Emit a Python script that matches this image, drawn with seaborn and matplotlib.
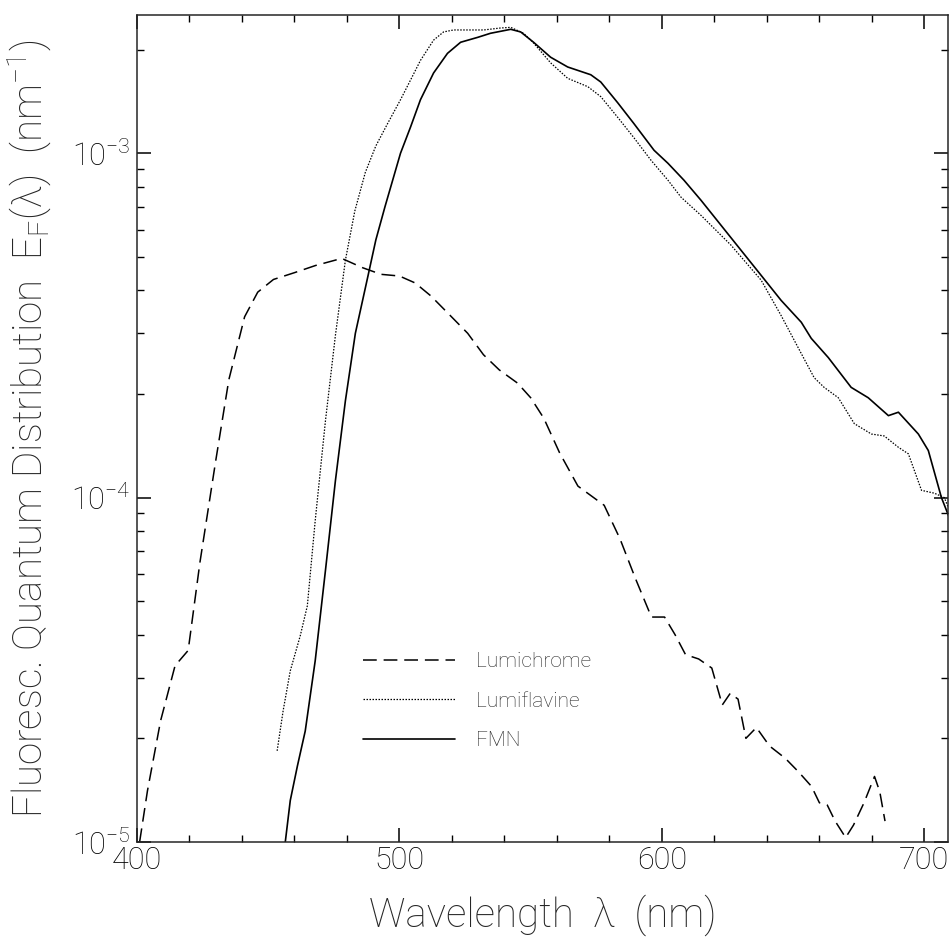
import numpy as np
import pandas as pd
import matplotlib
matplotlib.use('Agg')
import matplotlib.pyplot as plt
import matplotlib.ticker as mticker
import seaborn as sns

# ── Data ──────────────────────────────────────────────────────────────────────

lumichrome_nm = [401, 404, 409, 414.5, 419.5, 424, 430, 435, 441, 446, 452, 460,
                 468, 478, 486, 493, 500, 506, 512, 519, 526, 532, 538, 545, 550,
                 555, 561, 568, 574, 578, 584, 590, 596, 601, 605, 609, 614, 619,
                 623, 626, 629, 632, 636, 641, 647, 652, 657, 660, 663, 666, 670,
                 673, 677, 681, 683, 685]
lumichrome_val = [1.0e-5, 1.41e-5, 2.25e-5, 3.25e-5, 3.6e-5, 6.5e-5, 1.28e-4,
                  2.2e-4, 3.35e-4, 3.95e-4, 4.3e-4, 4.5e-4, 4.72e-4, 4.95e-4,
                  4.65e-4, 4.45e-4, 4.4e-4, 4.2e-4, 3.85e-4, 3.4e-4, 3.0e-4,
                  2.6e-4, 2.35e-4, 2.15e-4, 1.95e-4, 1.7e-4, 1.35e-4, 1.08e-4,
                  1.0e-4, 9.5e-5, 7.6e-5, 5.8e-5, 4.5e-5, 4.5e-5, 4.0e-5, 3.5e-5,
                  3.4e-5, 3.2e-5, 2.5e-5, 2.7e-5, 2.6e-5, 2.0e-5, 2.15e-5, 1.9e-5,
                  1.75e-5, 1.6e-5, 1.45e-5, 1.3e-5, 1.28e-5, 1.15e-5, 1.03e-5,
                  1.12e-5, 1.3e-5, 1.55e-5, 1.4e-5, 1.15e-5]

lumiflavine_nm = [453.4, 455.7, 458.4, 462.2, 464.9, 467.9, 471.8, 475.6, 479.4,
                  483, 487, 491, 495.5, 500.4, 504.2, 508, 513, 516.8, 520.6, 526,
                  532.1, 538.5, 542.4, 547.3, 551.1, 557.6, 564.1, 571.8, 576.7,
                  583.2, 589.3, 595.8, 602.3, 607.3, 614.9, 626.3, 637.8, 645.4,
                  653.1, 658, 661.8, 667.2, 673.3, 679.8, 684.7, 690.1, 693.9,
                  698.9, 703.8, 707.6, 710]
lumiflavine_val = [1.84e-5, 2.41e-5, 3.14e-5, 3.97e-5, 4.85e-5, 8.57e-5, 1.67e-4,
                   2.96e-4, 4.89e-4, 6.8e-4, 8.8e-4, 1.05e-3, 1.22e-3, 1.43e-3,
                   1.63e-3, 1.86e-3, 2.13e-3, 2.25e-3, 2.28e-3, 2.28e-3, 2.28e-3,
                   2.31e-3, 2.32e-3, 2.23e-3, 2.09e-3, 1.83e-3, 1.65e-3, 1.56e-3,
                   1.46e-3, 1.27e-3, 1.11e-3, 9.55e-4, 8.35e-4, 7.45e-4, 6.6e-4,
                   5.41e-4, 4.28e-4, 3.38e-4, 2.62e-4, 2.23e-4, 2.09e-4, 1.95e-4,
                   1.64e-4, 1.53e-4, 1.51e-4, 1.40e-4, 1.34e-4, 1.05e-4, 1.03e-4,
                   1.0e-4, 9.0e-5]

fmn_nm = [456.5, 458.4, 461.1, 464.1, 467.9, 471.8, 475.6, 479.4, 483.2, 488,
          491, 494.5, 500.4, 504.2, 508, 513, 518.3, 523.3, 529.8, 534.7,
          542.4, 546.2, 551.1, 557.6, 564.1, 572.9, 576.7, 583.2, 589.3, 597,
          602.3, 608.4, 614.9, 622.5, 630.2, 637.8, 645.4, 653.1, 656.9, 663.4,
          672.1, 678.6, 686.3, 690.1, 697.7, 701.5, 706.5, 709.5]
fmn_val = [1.0e-5, 1.32e-5, 1.66e-5, 2.1e-5, 3.36e-5, 6.14e-5, 1.12e-4, 1.91e-4,
           3.0e-4, 4.4e-4, 5.6e-4, 7.0e-4, 1.0e-3, 1.19e-3, 1.43e-3, 1.71e-3,
           1.95e-3, 2.10e-3, 2.17e-3, 2.23e-3, 2.29e-3, 2.25e-3, 2.10e-3, 1.90e-3,
           1.78e-3, 1.69e-3, 1.61e-3, 1.40e-3, 1.22e-3, 1.02e-3, 9.35e-4, 8.35e-4,
           7.3e-4, 6.18e-4, 5.22e-4, 4.42e-4, 3.74e-4, 3.23e-4, 2.90e-4, 2.55e-4,
           2.09e-4, 1.95e-4, 1.73e-4, 1.77e-4, 1.53e-4, 1.37e-4, 1.0e-4, 8.75e-5]

series_names = ['Lumichrome', 'Lumiflavine', 'FMN']
x_ticks = [400, 500, 600, 700]


# ── Style ─────────────────────────────────────────────────────────────────────

sns.set_style('ticks')
plt.rcParams['font.family'] = ['Roboto', 'DejaVu Sans']
plt.rcParams['font.weight'] = 'light'
plt.rcParams['axes.labelweight'] = 'light'
plt.rcParams['mathtext.default'] = 'regular'
plt.rcParams['axes.linewidth'] = 1.1
plt.rcParams['xtick.direction'] = 'in'
plt.rcParams['ytick.direction'] = 'in'

fig = plt.figure(figsize=(9.5, 9.43), dpi=100)
ax = fig.add_axes([0.1442, 0.1071, 0.8537, 0.877])

data = [
    (lumichrome_nm, lumichrome_val, series_names[0], (9, 4.5), 1.1),
    (lumiflavine_nm, lumiflavine_val, series_names[1], (1.2, 1.2), 0.9),
    (fmn_nm, fmn_val, series_names[2], None, 1.2),
]
for xs, ys, name, dash, lw in data:
    df = pd.DataFrame({'nm': xs, 'val': ys})
    sns.lineplot(data=df, x='nm', y='val', ax=ax, color='black', lw=lw,
                 label=name, estimator=None)
    line = ax.get_lines()[-1]
    if dash is not None:
        line.set_dashes(dash)

ax.set_yscale('log')
ax.set_xlim(400, 709)
ax.set_ylim(1e-5, 2.52e-3)

ax.set_xticks(x_ticks)
ax.xaxis.set_minor_locator(mticker.MultipleLocator(20))
ax.yaxis.set_major_locator(mticker.LogLocator(base=10))
ax.yaxis.set_minor_locator(mticker.LogLocator(base=10, subs=np.arange(2, 10)))
ax.yaxis.set_minor_formatter(mticker.NullFormatter())

ax.tick_params(which='both', top=True, right=True, colors='black')
ax.tick_params(which='major', length=10, width=1.1, labelsize=22, pad=3)
ax.tick_params(which='minor', length=5, width=1.0)
ax.tick_params(axis='y', which='major', pad=5)

ax.set_xlabel('Wavelength  λ  (nm)', fontsize=29, labelpad=14)
ax.set_ylabel('Fluoresc. Quantum Distribution  E$_F$(λ)  (nm$^{-1}$)',
              fontsize=29, labelpad=12)

ax.legend(loc='upper left', bbox_to_anchor=(0.279, 0.23), frameon=False,
          fontsize=15, handlelength=4.4, handletextpad=1.0, labelspacing=1.0,
          borderpad=0, borderaxespad=0)

plt.savefig('out.png', dpi=100)
